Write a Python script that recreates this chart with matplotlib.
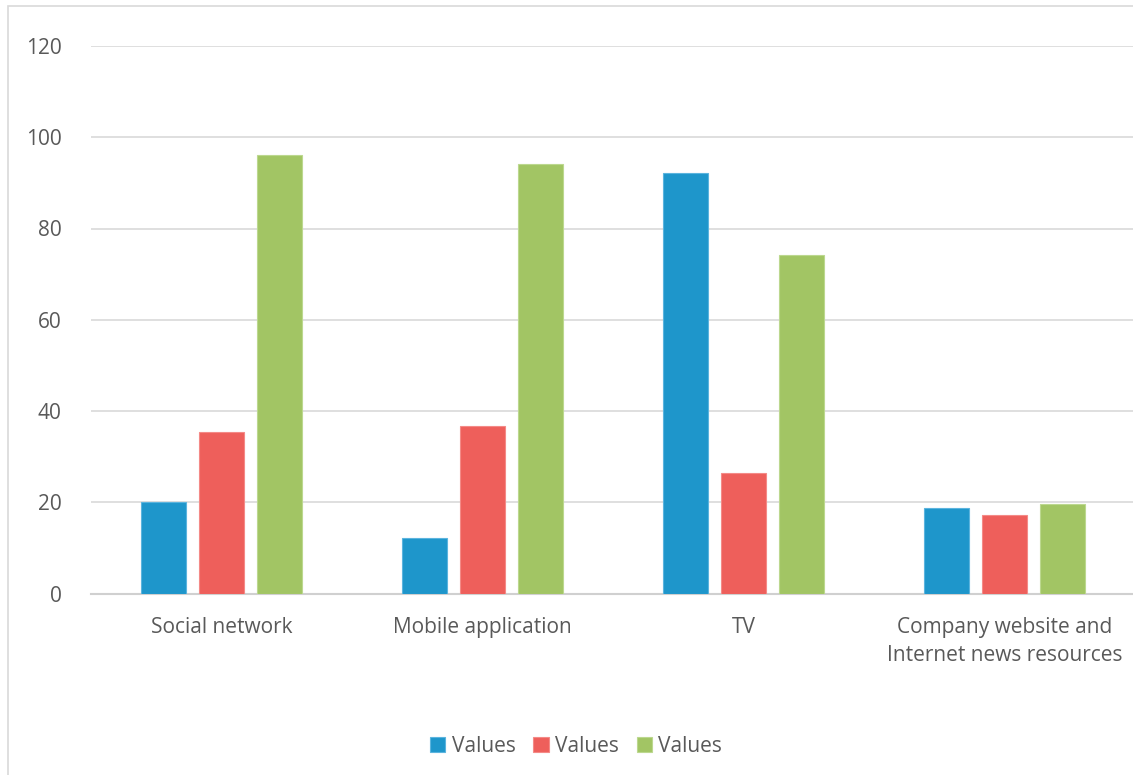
import matplotlib.pyplot as plt
import numpy as np
from matplotlib.patches import Rectangle

# data
categories = ["Social network", "Mobile application", "TV",
              "Company website and\nInternet news resources"]
series_labels = ["Values", "Values", "Values"]
blue_vals = [20.1, 12.1, 92.2, 18.7]
red_vals = [35.4, 36.8, 26.5, 17.1]
green_vals = [96.1, 94.2, 74.2, 19.6]
y_ticks = [0, 20, 40, 60, 80, 100, 120]

colors = ["#1E96CB", "#EE5F5B", "#A2C564"]
edges = ["#5BB4DE", "#F48A87", "#BCD88F"]
text_col = "#595959"

plt.rcParams["font.family"] = ["Open Sans", "DejaVu Sans"]

W, H = 1133, 775
fig = plt.figure(figsize=(W / 100, H / 100), dpi=100)
ax = fig.add_axes([91 / W, (H - 593.5) / H, (1135 - 91) / W, 547.5 / H])

x = np.arange(len(categories))
width = 0.172
step = 0.221
for i, vals in enumerate([blue_vals, red_vals, green_vals]):
    ax.bar(x + (i - 1) * step, vals, width, color=colors[i],
           edgecolor=edges[i], linewidth=0.8, label=series_labels[i], zorder=3)

ax.set_xlim(-0.5, len(categories) - 0.5)
ax.set_ylim(0, 120)
ax.set_yticks(y_ticks)
ax.set_xticks(x)
ax.set_xticklabels(categories, linespacing=1.45)
ax.tick_params(axis="both", length=0, labelsize=15, colors=text_col)
ax.tick_params(axis="x", pad=17)
ax.tick_params(axis="y", pad=21)
ax.grid(axis="y", color="#D9D9D9", linewidth=1.2, zorder=0)
for s in ["top", "right", "left"]:
    ax.spines[s].set_visible(False)
ax.spines["bottom"].set_color("#D0D0D0")
ax.spines["bottom"].set_linewidth(1.5)

fig.legend(loc="center", bbox_to_anchor=(576 / W, 1 - 746 / H), ncol=3,
           frameon=False, fontsize=15, handlelength=0.75, handleheight=0.75,
           handletextpad=0.3, columnspacing=0.85, labelcolor=text_col)

# outer chart frame
fig.patches.append(Rectangle((8 / W, -0.01), 1.0, 1 - 6 / H + 0.01,
                             transform=fig.transFigure, fill=False,
                             edgecolor="#D9D9D9", linewidth=1.2))

fig.savefig("out.png", dpi=100)
